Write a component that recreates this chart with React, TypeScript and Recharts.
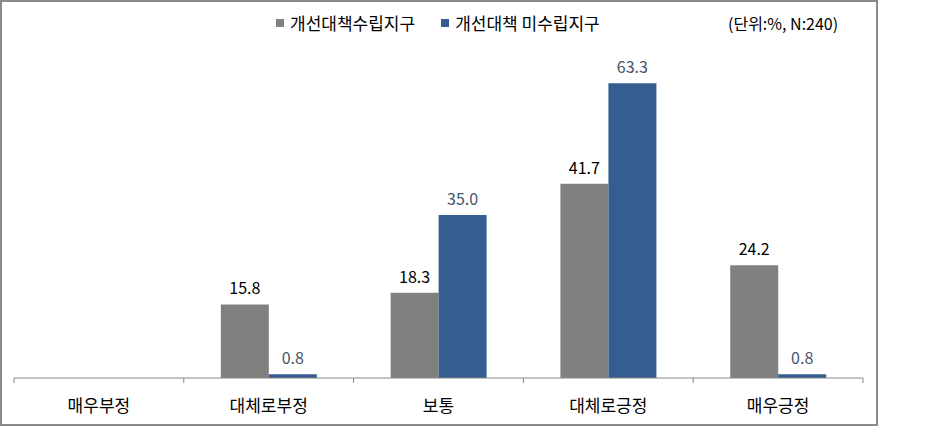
import React from 'react';
import { BarChart, Bar, XAxis, YAxis, LabelList } from 'recharts';

const categories = ['매우부정', '대체로부정', '보통', '대체로긍정', '매우긍정'];
const planned = [null, 15.8, 18.3, 41.7, 24.2];
const unplanned = [null, 0.8, 35.0, 63.3, 0.8];
const seriesNames = ['개선대책수립지구', '개선대책 미수립지구'];
const unitNote = '(단위:%, N:240)';

const data = categories.map((c, i) => ({ name: c, a: planned[i], b: unplanned[i] }));

const FONT = '"Noto Sans CJK KR", "Noto Sans", sans-serif';
const GRAY = '#808080';
const BLUE = '#355D90';

const BoundaryTick = (props: any) => {
  const { x, y, payload, width, visibleTicksCount, index } = props;
  const bw = width / visibleTicksCount;
  const axisY = y - 8;
  return (
    <g>
      <line x1={x - bw / 2} x2={x - bw / 2} y1={axisY} y2={axisY + 5} stroke="#868686" />
      {index === visibleTicksCount - 1 && (
        <line x1={x + bw / 2} x2={x + bw / 2} y1={axisY} y2={axisY + 5} stroke="#868686" />
      )}
      <text x={x} y={axisY + 29} textAnchor="middle" dominantBaseline="middle" fontSize={17} fill="#000" fontFamily={FONT}>
        {payload.value}
      </text>
    </g>
  );
};

const fmt = (v: any) => (v == null ? '' : Number(v).toFixed(1));

export default function App() {
  return (
    <div style={{ position: 'absolute', left: 0, top: 0, width: 878, height: 426, boxSizing: 'border-box', border: '2px solid #8a8a8a', background: '#fff' }}>
      <div style={{ position: 'absolute', left: 726, top: 9, fontFamily: FONT, fontSize: 16, color: '#000' }}>{unitNote}</div>
      <div style={{ position: 'absolute', left: 274, top: 8, display: 'flex', alignItems: 'center', fontFamily: FONT, fontSize: 17, color: '#000' }}>
        <span style={{ display: 'inline-block', width: 8, height: 8, background: GRAY, marginRight: 6 }} />
        <span style={{ marginRight: 26 }}>{seriesNames[0]}</span>
        <span style={{ display: 'inline-block', width: 8, height: 8, background: BLUE, marginRight: 6 }} />
        <span>{seriesNames[1]}</span>
      </div>
      <BarChart width={874} height={422} data={data} margin={{ top: 50, right: 13, bottom: 0, left: 12 }} barGap={0} barCategoryGap="21.8%">
        <XAxis dataKey="name" height={46} axisLine={{ stroke: '#868686' }} tickLine={false} tick={<BoundaryTick />} interval={0} />
        <YAxis hide domain={[0, 70]} />
        <Bar dataKey="a" fill={GRAY} isAnimationActive={false}>
          <LabelList dataKey="a" position="top" offset={10} formatter={fmt} style={{ fontSize: 16, fill: '#000', fontFamily: FONT }} />
        </Bar>
        <Bar dataKey="b" fill={BLUE} isAnimationActive={false}>
          <LabelList dataKey="b" position="top" offset={10} formatter={fmt} style={{ fontSize: 16, fill: '#44546A', fontFamily: FONT }} />
        </Bar>
      </BarChart>
    </div>
  );
}
